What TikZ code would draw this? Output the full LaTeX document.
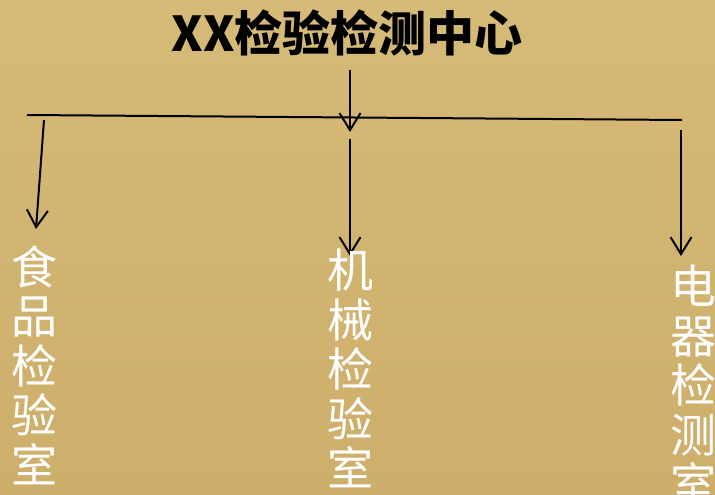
\documentclass[tikz,border=0pt]{standalone}
\usepackage{fontspec}
\newfontfamily\cjk{Noto Sans CJK SC}
\usetikzlibrary{arrows.meta}
\definecolor{bgtop}{RGB}{214,186,120}
\definecolor{bgbot}{RGB}{205,174,106}
\tikzset{
  conn/.style={line width=2pt, draw=black},
  arr/.style={conn, -{Straight Barb[length=17pt,width=21pt,line width=2pt]}},
  lab/.style={text=white, inner sep=0pt, anchor=north, align=center,
    font=\cjk\fontsize{46}{49.5}\selectfont},
  ttl/.style={text=black, inner sep=0pt, font=\cjk\bfseries\fontsize{48}{52}\selectfont}
}
\begin{document}
\begin{tikzpicture}[x=1pt,y=-1pt]
\useasboundingbox (0,0) rectangle (715,495);
\fill[top color=bgtop, bottom color=bgbot] (0,0) rectangle (715,495);
\node[ttl] (title) at (347,33) {XX检验检测中心};
\coordinate (t0) at (350,70);
\coordinate (t1) at (350,132);
\coordinate (busL) at (27,115);
\coordinate (busR) at (682,120);
\coordinate (a0) at (44,120);
\coordinate (a1) at (36,229);
\coordinate (b0) at (350,139);
\coordinate (b1) at (350,256);
\coordinate (c0) at (681,130);
\coordinate (c1) at (681,256);
\draw[arr] (t0) -- (t1);
\draw[conn] (busL) -- (busR);
\draw[arr] (a0) -- (a1);
\draw[arr] (b0) -- (b1);
\draw[arr] (c0) -- (c1);
\node[lab] (food) at (35,245) {食\\品\\检\\验\\室};
\node[lab] (mech) at (350,249) {机\\械\\检\\验\\室};
\node[lab] (elec) at (693,265) {电\\器\\检\\测\\室};
\end{tikzpicture}
\end{document}
